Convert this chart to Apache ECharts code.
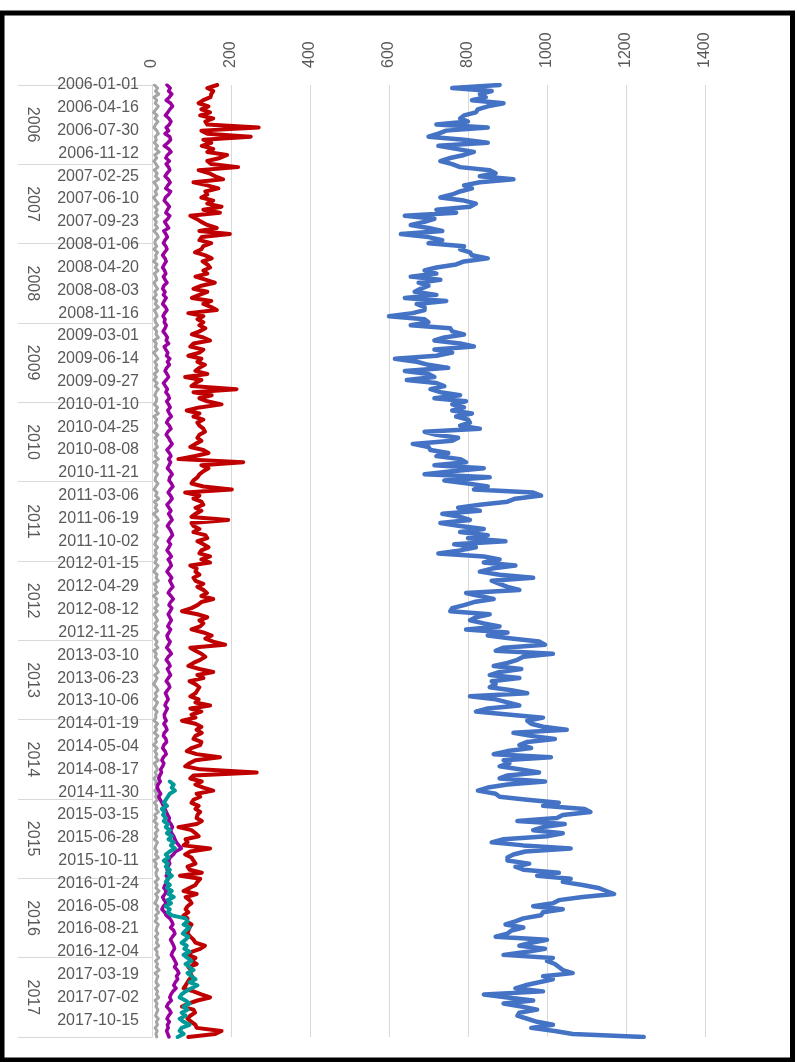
<!DOCTYPE html>
<html>
<head>
<meta charset="utf-8">
<script src="https://cdn.jsdelivr.net/npm/echarts@6/dist/echarts.min.js"></script>
<style>
  html, body { margin: 0; padding: 0; background: #fff; }
  #chart { width: 797px; height: 1062px; }
</style>
</head>
<body>
<div id="chart"></div>
<script>
// weekly categories, 2006-01-01 .. 2017-12-31 (Sundays)
var weeks = [];
for (var d = Date.UTC(2006, 0, 1); weeks.length < 627; d += 7 * 864e5) {
	weeks.push(new Date(d).toISOString().slice(0, 10));
}
var years = ['2006', '2007', '2008', '2009', '2010', '2011', '2012', '2013', '2014', '2015', '2016', '2017'];

// blue: every 2nd week from week 0
var blueValues = [
	880,760,860,830,845,810,890,850,825,820,790,780,800,720,850,745,725,700,790,850,725,770,815,790,755,730,760,780,855,870,830,915,830,790,810,780,760,730,790,820,805,720,770,640,715,690,655,700,735,630,700,735,
	700,790,780,805,810,850,790,770,720,690,720,655,730,675,700,680,665,720,640,745,670,690,690,660,600,690,700,655,755,760,790,740,715,780,815,715,760,720,615,670,700,750,640,700,715,645,720,740,705,730,780,715,795,
	760,790,760,810,770,800,805,780,830,690,720,775,760,660,700,705,750,720,780,795,715,840,760,690,855,740,800,850,815,965,985,920,900,830,775,830,735,780,805,730,780,840,780,850,800,895,765,820,780,725,840,880,
	840,920,860,830,880,965,860,880,900,930,795,830,865,815,790,760,755,855,820,805,840,880,795,900,850,910,980,995,890,870,1015,940,925,900,865,935,880,855,930,860,870,855,910,950,805,870,900,930,850,820,900,990,950,
	960,990,1050,915,960,1020,950,930,960,900,865,1010,890,905,880,930,980,900,880,995,900,850,825,870,880,950,1030,990,1095,1110,1040,1025,925,1045,990,965,1040,1000,890,860,940,1060,945,915,900,900,955,920,940,1030,975,1060,1040,
	1090,1130,1150,1170,1090,1030,1015,965,1040,990,985,940,920,895,940,910,900,870,1000,960,930,995,950,890,1015,1000,1020,1030,1040,1065,990,1015,980,945,920,990,840,900,965,890,935,975,930,925,950,975,1015,960,1020,1065,1245
];

// red: every 2nd week from week 0
var redValues = [
	165,140,155,150,148,130,118,143,125,147,122,155,135,140,270,125,140,250,130,150,126,155,140,190,172,140,150,218,118,145,160,180,105,140,168,135,140,125,155,140,176,130,172,97,113,125,140,164,120,197,126,120,
	150,130,125,109,135,151,128,140,147,130,140,110,135,159,125,105,140,120,101,150,130,150,164,92,130,115,130,120,135,120,101,130,147,105,97,130,120,92,125,115,134,120,110,140,84,125,110,100,214,105,151,120,140,
	176,120,88,120,105,130,115,120,130,134,120,115,125,110,97,130,143,110,67,231,125,143,130,120,115,105,100,130,202,84,120,105,125,130,110,125,110,100,193,100,105,120,105,135,140,115,130,143,125,120,147,125,
	147,97,113,110,120,105,110,130,115,130,139,125,155,125,115,100,76,115,140,120,130,122,100,130,151,135,155,185,97,110,125,135,122,105,92,120,155,115,130,95,110,120,115,110,97,118,110,147,97,125,100,110,76,
	110,125,113,126,110,105,125,122,100,88,113,172,110,95,84,122,265,105,97,126,110,130,155,113,122,105,100,118,110,122,115,113,126,113,67,100,110,118,85,90,80,147,97,84,100,105,110,90,95,126,71,122,115,
	110,95,80,113,85,95,100,90,85,92,80,90,88,100,95,92,90,97,105,110,134,122,100,92,110,100,113,92,100,97,101,95,90,85,80,105,125,147,115,92,76,105,109,97,90,100,110,113,176,160,92
];

// purple: every 2nd week from week 0
var purpleValues = [
	38,46,42,50,44,36,47,52,45,40,34,43,48,44,36,42,33,45,47,40,31,42,48,39,35,44,
	36,42,45,38,33,41,46,40,35,47,42,34,31,38,44,39,35,45,40,32,37,42,30,35,39,33,
	29,35,38,32,27,33,36,31,27,32,35,29,33,38,30,27,33,29,36,31,27,34,38,32,28,33,
	31,36,33,28,34,39,36,42,31,35,40,37,45,39,44,37,33,38,42,36,29,34,39,35,41,44,
	37,42,46,40,44,49,41,37,44,48,40,36,42,46,51,45,38,44,48,42,47,43,39,46,51,45,
	43,49,53,46,41,47,51,45,38,43,48,42,47,51,44,39,45,49,52,46,41,47,43,38,44,49,
	41,46,49,43,38,44,50,45,49,53,46,41,48,54,47,43,50,46,41,45,49,44,40,47,43,38,
	40,46,42,37,44,49,41,36,42,46,39,43,47,41,36,42,45,39,34,38,41,36,33,39,35,31,
	32,36,30,35,38,31,29,35,37,30,27,33,36,29,25,30,27,22,24,20,17,21,15,13,17,22,
	17,21,25,29,33,36,40,44,42,48,52,47,50,55,58,62,68,74,60,54,46,42,45,40,38,44,
	36,41,38,33,30,36,33,27,31,36,29,25,32,36,45,50,53,47,55,58,52,47,51,55,57,52,
	49,54,58,62,57,64,68,62,65,59,55,61,53,48,45,49,41,37,44,48,42,38,44,39,41,37,40,43
];

// gray: every 2nd week from week 0
var grayValues = [
	6,14,9,17,5,12,8,16,10,4,13,7,15,9,5,12,16,8,11,6,14,9,18,7,12,5,
	10,15,6,13,9,17,5,11,14,8,12,4,10,16,7,13,9,15,6,11,8,14,5,12,16,9,
	7,12,5,14,9,11,4,13,8,15,6,10,12,5,9,14,7,11,4,12,8,16,6,10,13,7,
	9,14,6,12,10,16,5,11,8,13,4,10,15,7,12,9,14,6,11,5,13,8,16,10,7,12,
	11,6,14,9,16,5,12,8,13,10,4,15,7,12,9,14,6,11,8,16,5,13,10,7,14,9,
	8,15,10,5,13,9,17,6,12,8,14,4,11,16,7,13,9,12,5,15,10,7,14,8,11,6,
	12,7,15,9,5,13,10,16,6,11,8,14,4,12,9,15,7,13,5,10,14,8,12,6,16,9,
	7,13,9,15,5,11,8,14,10,6,12,16,7,13,9,4,11,15,8,12,6,14,10,5,13,9,
	10,5,14,8,12,6,15,9,11,4,13,7,12,9,16,6,10,14,8,12,5,11,9,15,7,12,
	9,14,6,12,10,16,7,11,5,13,9,15,8,12,6,14,10,7,13,9,16,5,11,8,14,10,
	11,16,8,13,10,18,9,14,12,7,15,11,17,9,13,8,16,12,10,15,9,14,11,17,8,13,
	12,17,9,14,11,18,8,15,12,10,16,9,14,11,17,8,13,10,15,12,9,16,11,14,8,13,10,12
];

// teal: every 2nd week from week 458
var tealValues = [
	45,55,50,58,45,40,35,30,38,25,32,28,35,30,40,35,45,38,50,42,55,48,58,45,35,42,30,40,35,45,38,50,40,35,45,38,50,42,55,40,48,35,45,40,50,
	85,90,80,95,85,78,92,85,75,88,82,95,80,90,100,85,95,105,90,100,110,95,115,100,85,75,70,85,95,80,90,75,85,70,80,95,75,70,80,65
];

var fontName = '"Liberation Sans", Arial, sans-serif';
var textColor = '#595959';

function pairs(values, start, step) {
	return values.map(function (v, i) {
		return [v, start + i * step];
	});
}

function lineSeries(name, color, width, data) {
	return {
		name: name,
		type: 'line',
		data: data,
		showSymbol: false,
		symbol: 'none',
		lineStyle: { color: color, width: width, cap: 'round', join: 'round' },
		itemStyle: { color: color }
	};
}

var chart = echarts.init(document.getElementById('chart'));
var option = {
	animation: false,
	grid: { left: 152, right: 92, top: 85, bottom: 25 },
	xAxis: {
		type: 'value',
		position: 'top',
		min: 0,
		max: 1400,
		interval: 200,
		axisLine: { show: false },
		axisTick: { show: false },
		splitLine: { lineStyle: { color: '#d9d9d9', width: 1 } },
		axisLabel: {
			rotate: -90, margin: 17, color: textColor, fontSize: 16, fontFamily: fontName,
			formatter: function (v) { return String(v); }
		}
	},
	yAxis: [{
		type: 'category',
		inverse: true,
		boundaryGap: false,
		data: weeks,
		axisLine: { lineStyle: { color: '#d9d9d9', width: 1 } },
		axisTick: { show: false },
		axisLabel: { interval: 14, margin: 13, color: textColor, fontSize: 16, fontFamily: fontName }
	}, {
		// year grouping
		type: 'category',
		inverse: true,
		boundaryGap: true,
		data: years,
		position: 'left',
		offset: 134,
		axisLine: { show: false },
		axisTick: { show: true, inside: true, length: 134, lineStyle: { color: '#d9d9d9', width: 1 } },
		axisLabel: { inside: true, rotate: -90, margin: 6, color: textColor, fontSize: 16, fontFamily: fontName }
	}],
	graphic: [{
		type: 'rect',
		silent: true,
		z: 100,
		shape: { x: 2, y: 13, width: 790.5, height: 1047 },
		style: { fill: 'none', stroke: '#000', lineWidth: 5 }
	}],
	series: [
		lineSeries('blue', '#4472C4', 4.5, pairs(blueValues, 0, 2)),
		lineSeries('red', '#C00000', 4, pairs(redValues, 0, 2)),
		lineSeries('gray', '#A5A5A5', 3, pairs(grayValues, 0, 2)),
		lineSeries('purple', '#9900A0', 3.5, pairs(purpleValues, 0, 2)),
		lineSeries('teal', '#009999', 4, pairs(tealValues, 458, 2))
	]
};
chart.setOption(option);
</script>
</body>
</html>
